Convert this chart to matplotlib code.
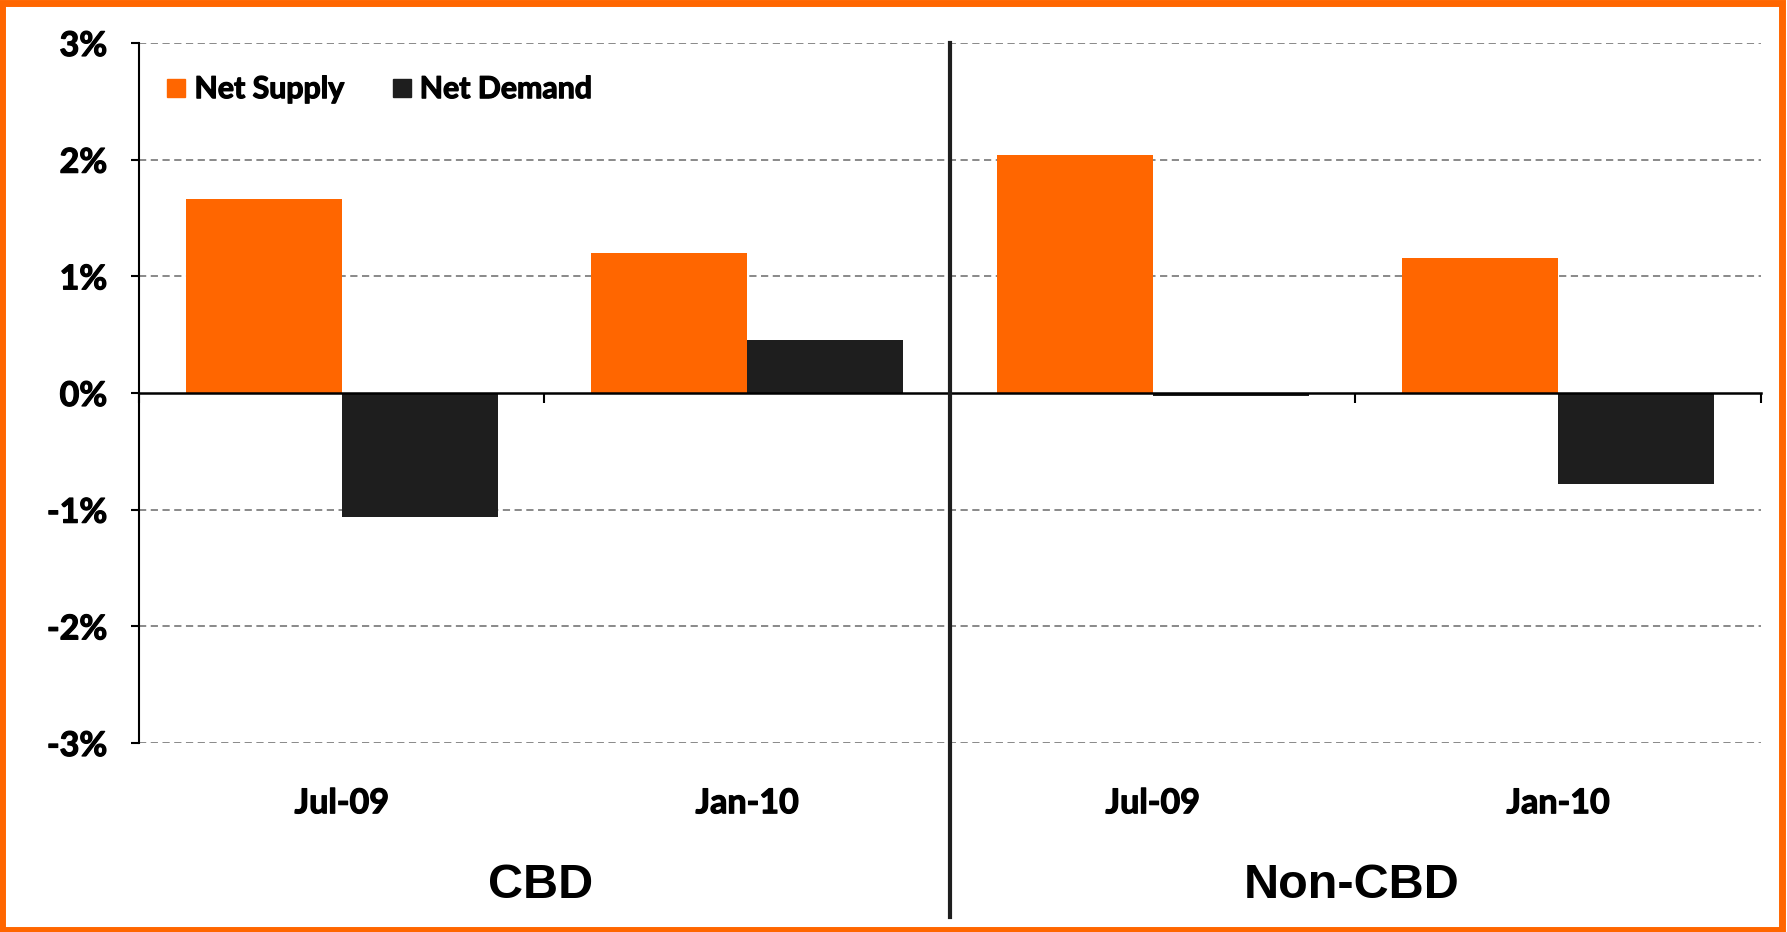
import matplotlib.pyplot as plt
from matplotlib.patches import Rectangle
from matplotlib.lines import Line2D
import matplotlib.transforms as mtransforms
import matplotlib.patheffects as pe

# Chart data (percent)
periods = ['Jul-09', 'Jan-10', 'Jul-09', 'Jan-10']
groups = ['CBD', 'Non-CBD']
net_supply = [1.66, 1.20, 2.04, 1.16]
net_demand = [-1.06, 0.45, -0.03, -0.78]

orange = '#FF6600'
dark = '#1E1E1E'
label_font = 'Lato'
heavy = [pe.withStroke(linewidth=0.9, foreground='black')]

fig = plt.figure(figsize=(17.87, 9.32), dpi=100)
ax = fig.add_axes([0.0778, 0.2028, 0.9076, 0.7511])

x = list(range(len(periods)))
w = 0.385
ax.bar([i - w / 2 for i in x], net_supply, width=w, color=orange, label='Net Supply', zorder=3)
ax.bar([i + w / 2 for i in x], net_demand, width=w, color=dark, label='Net Demand', zorder=3)

ax.set_xlim(-0.5, 3.5)
ax.set_ylim(-3, 3)
ax.set_yticks([-3, -2, -1, 0, 1, 2, 3])
ax.set_yticklabels(['%d%%' % v for v in range(-3, 4)], fontfamily=label_font,
                   fontweight='bold', fontsize=24.5)
for t in ax.get_yticklabels():
    t.set_path_effects(heavy)

# grid
for v in [-3, -2, -1, 1, 2, 3]:
    ax.axhline(v, color='#808080', lw=1.3, ls=(0, (4, 2.5)), zorder=1)

# spines
ax.spines['top'].set_visible(False)
ax.spines['right'].set_visible(False)
ax.spines['left'].set_linewidth(1.5)
ax.spines['bottom'].set_position(('data', 0))
ax.spines['bottom'].set_linewidth(1.8)
ax.spines['bottom'].set_zorder(4)
ax.tick_params(axis='y', direction='out', length=6, width=1.5, pad=17)
ax.set_xticks([-0.5, 0.5, 1.5, 2.5, 3.5])
ax.set_xticklabels([])
ax.tick_params(axis='x', direction='out', length=7, width=1.5)

# category and group labels below the plot
trans = mtransforms.blended_transform_factory(ax.transData, ax.transAxes)
for i, p in enumerate(periods):
    ax.text(i, -0.086, p, transform=trans, ha='center', va='center',
            fontfamily=label_font, fontweight='bold', fontsize=24.5, path_effects=heavy)
for j, g in enumerate(groups):
    ax.text(0.5 + 2 * j - 0.01, -0.203, g, transform=trans, ha='center', va='center',
            fontfamily='Liberation Sans', fontweight='bold', fontsize=35)

# divider between groups
ax.plot([1.5, 1.5], [1.0, -0.249], transform=trans, color=dark, lw=3,
        clip_on=False, zorder=5)

# legend
handles = [Line2D([], [], marker='s', ls='none', markersize=13, color=orange),
           Line2D([], [], marker='s', ls='none', markersize=13, color=dark)]
leg = ax.legend(handles, ['Net Supply', 'Net Demand'], ncol=2, frameon=False,
                loc='upper left', bbox_to_anchor=(-0.005, 0.993), handletextpad=0.0,
                handlelength=1.2, columnspacing=1.3,
                prop={'family': label_font, 'weight': 'bold', 'size': 21.8})
for t in leg.get_texts():
    t.set_path_effects(heavy)

# orange frame around the figure
fig.patches.append(Rectangle((0.001, 0.002), 0.996, 0.995, transform=fig.transFigure,
                             fill=False, edgecolor=orange, lw=5))

fig.savefig('out.png', dpi=100)
